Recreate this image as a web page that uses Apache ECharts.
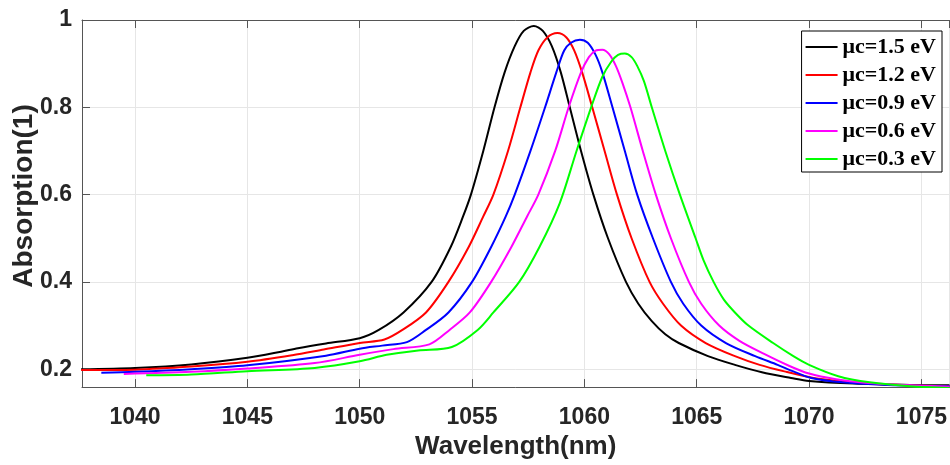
<!DOCTYPE html>
<html>
<head>
<meta charset="utf-8">
<script src="https://cdn.jsdelivr.net/npm/echarts@6/dist/echarts.min.js"></script>
<style>
    html, body { margin: 0; padding: 0; background: #fff; }
    #main { width: 950px; height: 465px; }
</style>
</head>
<body>
<div id="main"></div>
<script>
// [wavelength nm, absorption]
var mc15 = [
    [1037.6, 0.200], [1040, 0.203], [1042.5, 0.211], [1045, 0.226], [1046.5, 0.240],
    [1047.25, 0.248], [1048.5, 0.259], [1050, 0.271], [1050.85, 0.290], [1051.95, 0.330],
    [1053.2, 0.400], [1054.05, 0.480], [1054.6, 0.550], [1054.95, 0.600], [1055.5, 0.700],
    [1056.0, 0.800], [1056.45, 0.880], [1056.9, 0.940], [1057.3, 0.975], [1057.75, 0.986],
    [1058.15, 0.975], [1058.55, 0.940], [1058.95, 0.880], [1059.35, 0.800], [1059.85, 0.700],
    [1060.4, 0.600], [1061.05, 0.500], [1061.85, 0.400], [1062.4, 0.350], [1063.0, 0.310],
    [1063.6, 0.280], [1064.2, 0.260], [1065.5, 0.230], [1066.7, 0.210], [1067.9, 0.193],
    [1069.2, 0.180], [1070, 0.173], [1072, 0.167], [1074.5, 0.164], [1076.25, 0.163]
];
var mc12 = [
    [1037.6, 0.198], [1040, 0.199], [1042.5, 0.206], [1045, 0.217], [1047, 0.232],
    [1048.4, 0.245], [1050, 0.260], [1051.1, 0.268], [1051.9, 0.290], [1052.95, 0.330],
    [1053.95, 0.400], [1054.85, 0.480], [1055.5, 0.550], [1055.95, 0.600], [1056.6, 0.700],
    [1057.15, 0.800], [1057.6, 0.880], [1057.95, 0.930], [1058.35, 0.960], [1058.8, 0.970],
    [1059.2, 0.960], [1059.55, 0.930], [1059.9, 0.880], [1060.35, 0.800], [1060.9, 0.700],
    [1061.45, 0.600], [1062.1, 0.500], [1062.9, 0.400], [1063.5, 0.350], [1064.3, 0.300],
    [1065.4, 0.260], [1066.7, 0.230], [1067.8, 0.210], [1068.9, 0.195], [1070.2, 0.180],
    [1071.5, 0.172], [1073, 0.166], [1075, 0.162], [1076.25, 0.161]
];
var mc09 = [
    [1038.5, 0.192], [1040, 0.194], [1042.5, 0.200], [1045, 0.209], [1048.5, 0.231],
    [1050, 0.247], [1051, 0.254], [1052.1, 0.262], [1052.95, 0.290], [1053.95, 0.330],
    [1055.0, 0.400], [1055.85, 0.480], [1056.5, 0.550], [1056.9, 0.600], [1057.6, 0.700],
    [1058.25, 0.800], [1058.75, 0.880], [1059.1, 0.930], [1059.4, 0.948], [1059.8, 0.955],
    [1060.15, 0.948], [1060.5, 0.920], [1060.8, 0.880], [1061.25, 0.800], [1061.8, 0.700],
    [1062.35, 0.600], [1063.05, 0.500], [1063.85, 0.400], [1064.4, 0.350], [1065.2, 0.300],
    [1066.3, 0.260], [1067.6, 0.230], [1068.6, 0.210], [1069.3, 0.195], [1070.1, 0.180],
    [1071.5, 0.170], [1073.5, 0.164], [1076.25, 0.161]
];
var mc06 = [
    [1039.5, 0.189], [1042.5, 0.194], [1045, 0.2015], [1048, 0.214], [1050, 0.233],
    [1051.5, 0.246], [1053.1, 0.257], [1054.0, 0.290], [1054.9, 0.330], [1055.85, 0.400],
    [1056.75, 0.480], [1057.45, 0.550], [1057.95, 0.600], [1058.7, 0.700], [1059.3, 0.800],
    [1059.85, 0.880], [1060.2, 0.915], [1060.5, 0.930], [1060.8, 0.932], [1061.1, 0.922],
    [1061.4, 0.895], [1061.7, 0.855], [1062.05, 0.800], [1062.6, 0.700], [1063.18, 0.600],
    [1063.85, 0.500], [1064.65, 0.400], [1065.2, 0.350], [1066.0, 0.300], [1066.9, 0.265],
    [1068.0, 0.235], [1069.1, 0.208], [1070.0, 0.190], [1071.2, 0.177], [1072.5, 0.169],
    [1074.5, 0.163], [1076.25, 0.160]
];
var mc03 = [
    [1040.5, 0.186], [1042.5, 0.188], [1045, 0.1955], [1048, 0.203], [1050, 0.218],
    [1051.2, 0.233], [1052.6, 0.243], [1054.1, 0.251], [1055.25, 0.290], [1055.95, 0.330],
    [1057.1, 0.400], [1058.0, 0.480], [1058.9, 0.580], [1059.65, 0.700], [1060.3, 0.800],
    [1060.8, 0.870], [1061.2, 0.905], [1061.5, 0.920], [1061.8, 0.923], [1062.1, 0.915],
    [1062.35, 0.895], [1062.65, 0.860], [1063.0, 0.800], [1063.6, 0.700], [1064.25, 0.600],
    [1064.95, 0.500], [1065.3, 0.450], [1065.75, 0.400], [1066.2, 0.360], [1066.7, 0.330],
    [1067.3, 0.300], [1068.4, 0.260], [1069.3, 0.230], [1070.0, 0.210], [1071.3, 0.184],
    [1072.7, 0.170], [1074.5, 0.161], [1076.25, 0.157]
];
var seriesNames = ['μc=1.5 eV', 'μc=1.2 eV', 'μc=0.9 eV', 'μc=0.6 eV', 'μc=0.3 eV'];
var seriesData = [mc15, mc12, mc09, mc06, mc03];
var seriesColors = ['#000000', '#ff0000', '#0000ff', '#ff00ff', '#00ff00'];

var xMin = 1037.64, xMax = 1076.25;
var yMin = 0.159, yMax = 1;

var myChart = echarts.init(document.getElementById('main'));

var series = [];
seriesData.forEach(function (d, i) {
    series.push({
        name: seriesNames[i],
        type: 'line',
        data: d,
        symbol: 'none',
        smooth: 0.3,
        lineStyle: { width: 2, color: seriesColors[i] },
        itemStyle: { color: seriesColors[i] }
    });
});

var labelFont = { fontFamily: 'Liberation Sans, Arial', fontWeight: 'bold', fontSize: 23, color: '#262626' };

option = {
    backgroundColor: '#fff',
    animation: false,
    grid: {
        left: 82, right: 0, top: 20, bottom: 74,
        show: false
    },
    graphic: [{
        type: 'text',
        x: 24,
        y: 196,
        rotation: Math.PI / 2,
        style: {
            text: 'Absorption(1)',
            font: 'bold 28px "Liberation Sans", Arial',
            fill: '#262626',
            align: 'center',
            verticalAlign: 'middle'
        }
    }],
    legend: {
        orient: 'vertical',
        right: 8,
        top: 31,
        backgroundColor: '#fff',
        borderColor: '#000',
        borderWidth: 1,
        borderRadius: 0,
        padding: [5, 6, 2, 4],
        itemGap: 6,
        itemWidth: 32,
        itemHeight: 2,
        icon: 'rect',
        textStyle: {
            fontFamily: 'Liberation Serif, Times New Roman',
            fontWeight: 'bold',
            fontSize: 22,
            lineHeight: 22,
            color: '#000'
        },
        data: seriesNames
    },
    xAxis: [{
        type: 'value',
        min: xMin,
        max: xMax,
        splitNumber: 8,
        name: 'Wavelength(nm)',
        nameLocation: 'middle',
        nameGap: 46,
        nameTextStyle: { fontFamily: 'Liberation Sans, Arial', fontWeight: 'bold', fontSize: 26, color: '#262626' },
        axisLine: { show: true, lineStyle: { color: '#555', width: 1 } },
        axisTick: { show: true, inside: true, length: 8, lineStyle: { color: '#555' } },
        axisLabel: Object.assign({
            margin: 19, showMinLabel: false, showMaxLabel: false,
            formatter: function (v) { return String(v); }
        }, labelFont),
        splitLine: { show: true, lineStyle: { color: '#e6e6e6', width: 1 } }
    }, {
        type: 'value',
        position: 'top',
        min: xMin,
        max: xMax,
        splitNumber: 8,
        axisLine: { show: true, lineStyle: { color: '#555', width: 1 } },
        axisTick: { show: true, inside: true, length: 8, lineStyle: { color: '#555' } },
        axisLabel: { show: false },
        splitLine: { show: false }
    }],
    yAxis: {
        type: 'value',
        min: yMin,
        max: yMax,
        splitNumber: 5,
        axisLine: { show: true, lineStyle: { color: '#555', width: 1 } },
        axisTick: { show: true, inside: true, length: 8, lineStyle: { color: '#555' } },
        axisLabel: Object.assign({ margin: 10, showMinLabel: false }, labelFont),
        splitLine: { show: true, lineStyle: { color: '#e6e6e6', width: 1 } }
    },
    series: series
};
myChart.setOption(option);
</script>
</body>
</html>
